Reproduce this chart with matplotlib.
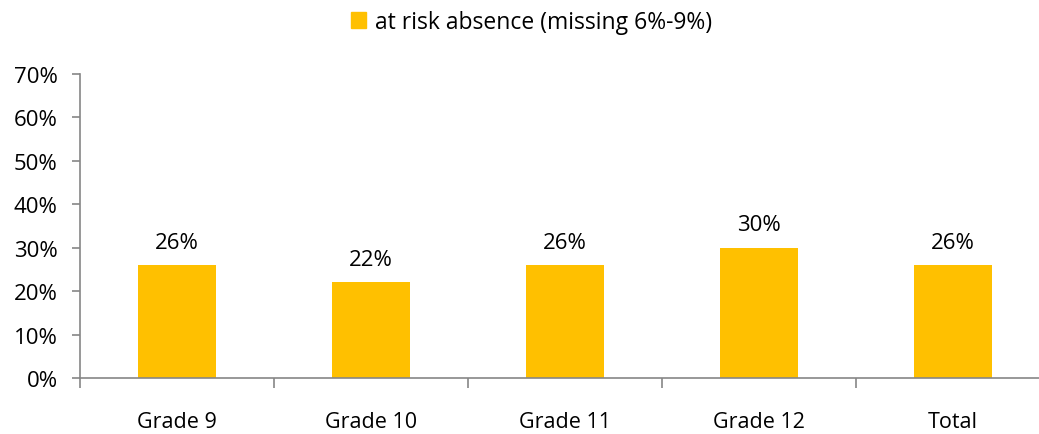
import matplotlib.pyplot as plt
from matplotlib.ticker import PercentFormatter
from matplotlib.patches import Patch

categories = ["Grade 9", "Grade 10", "Grade 11", "Grade 12", "Total"]
at_risk = [26, 22, 26, 30, 26]
y_ticks = [0, 10, 20, 30, 40, 50, 60, 70]

bar_color = "#FFC000"
axis_color = "#868686"

plt.rcParams["font.family"] = ["Open Sans", "DejaVu Sans"]

fig = plt.figure(figsize=(10.39, 4.35), dpi=100)
ax = fig.add_axes([80 / 1039, 56 / 435, 970 / 1039, 304 / 435])

x = range(len(categories))
bars = ax.bar(x, at_risk, width=0.40, color=bar_color)

# value labels above each bar
for xi, v in zip(x, at_risk):
    ax.annotate(f"{v}%", (xi, v), xytext=(0, 9), textcoords="offset points",
                ha="center", va="bottom", fontsize=16, color="#000000")

ax.set_xlim(-0.5, len(categories) - 0.5)
ax.set_ylim(0, 70)
ax.set_yticks(y_ticks)
ax.yaxis.set_major_formatter(PercentFormatter(decimals=0))
ax.set_xticks(x)
ax.set_xticklabels(categories)
ax.set_xticks([i + 0.5 for i in range(-1, len(categories))], minor=True)

for s in ["top", "right"]:
    ax.spines[s].set_visible(False)
for s in ["left", "bottom"]:
    ax.spines[s].set_color(axis_color)
    ax.spines[s].set_linewidth(1.2)

ax.tick_params(axis="y", direction="out", length=6, width=1.2, color=axis_color,
               labelsize=16, pad=10)
ax.tick_params(axis="x", which="major", length=0, labelsize=15.5, pad=24)
ax.tick_params(axis="x", which="minor", direction="out", length=7, width=1.2,
               color=axis_color)

fig.legend(handles=[Patch(color=bar_color, label="at risk absence (missing 6%-9%)")],
           loc="center", bbox_to_anchor=(532 / 1039, 1 - 23 / 435), frameon=False,
           fontsize=16.5, handlelength=0.65, handleheight=0.65, handletextpad=0.4)

fig.savefig("out.png", dpi=100)
